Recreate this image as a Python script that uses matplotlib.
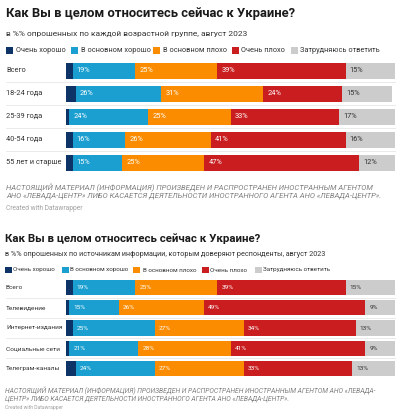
import matplotlib
matplotlib.use("Agg")
import matplotlib.pyplot as plt
from matplotlib.patches import Rectangle
import matplotlib.transforms as mtransforms

plt.rcParams['font.family'] = ['Roboto', 'DejaVu Sans']

series_names = ["Очень хорошо", "В основном хорошо", "В основном плохо", "Очень плохо", "Затрудняюсь ответить"]
colors = ["#0e3367", "#1a9fd0", "#fb8c00", "#c91d20", "#cccccc"]

title = "Как Вы в целом относитесь сейчас к Украине?"
sub1 = "в %% опрошенных по каждой возрастной группе, август 2023"
sub2 = "в %% опрошенных по источникам информации, которым доверяют респонденты, август 2023"

cats1 = ["Всего", "18-24 года", "25-39 года", "40-54 года", "55 лет и старше"]
very_good1 = [2, 3, 1, 2, 2]
good1 = [19, 26, 24, 16, 15]
bad1 = [25, 31, 25, 26, 25]
very_bad1 = [39, 24, 33, 41, 47]
dk1 = [15, 15, 17, 16, 12]

cats2 = ["Всего", "Телевидение", "Интернет-издания", "Социальные сети", "Телеграм-каналы"]
very_good2 = [2, 1, 2, 1, 3]
good2 = [19, 15, 25, 21, 24]
bad2 = [25, 26, 27, 28, 27]
very_bad2 = [39, 49, 34, 41, 33]
dk2 = [15, 9, 13, 9, 13]

foot1 = ("НАСТОЯЩИЙ МАТЕРИАЛ (ИНФОРМАЦИЯ) ПРОИЗВЕДЕН И РАСПРОСТРАНЕН ИНОСТРАННЫМ АГЕНТОМ\n"
         "АНО «ЛЕВАДА-ЦЕНТР» ЛИБО КАСАЕТСЯ ДЕЯТЕЛЬНОСТИ ИНОСТРАННОГО АГЕНТА АНО «ЛЕВАДА-ЦЕНТР».")
foot2 = ("НАСТОЯЩИЙ МАТЕРИАЛ (ИНФОРМАЦИЯ) ПРОИЗВЕДЕН И РАСПРОСТРАНЕН ИНОСТРАННЫМ АГЕНТОМ АНО «ЛЕВАДА-\n"
         "ЦЕНТР» ЛИБО КАСАЕТСЯ ДЕЯТЕЛЬНОСТИ ИНОСТРАННОГО АГЕНТА АНО «ЛЕВАДА-ЦЕНТР».")
credit = "Created with Datawrapper"

W, H = 399, 413
fig = plt.figure(figsize=(W / 100, H / 100), dpi=100)
fig.patch.set_facecolor("white")
renderer = fig.canvas.get_renderer()


def fx(px):
    return px / W


def fy(py):
    return 1 - py / H


def size_for(s, width_px, **kw):
    t = fig.text(0, 0, s, fontsize=10, **kw)
    w = t.get_window_extent(renderer=renderer).width
    t.remove()
    return 10 * width_px / w


def fit_text(x, y, s, width_px, **kw):
    fs = size_for(s, width_px, **kw)
    return fig.text(fx(x), fy(y), s, fontsize=fs, va="center", ha="left", **kw)


def legend_row(y, sq_x, txt_x, longest_w, sq):
    fs = size_for(series_names[4], longest_w)
    for name, c, sx, tx in zip(series_names, colors, sq_x, txt_x):
        fig.patches.append(Rectangle((fx(sx), fy(y + sq / 2)), fx(sq), sq / H, transform=fig.transFigure,
                                     facecolor=c, edgecolor="none"))
        fig.text(fx(tx), fy(y), name, fontsize=fs, color="#333333", va="center", ha="left")


def draw_chart(top, bottom, cats, data, bar_h, cat_fs, val_fs):
    ax = fig.add_axes([fx(66), fy(bottom), fx(395) - fx(66), (bottom - top) / H])
    n = len(cats)
    ys = list(range(n))
    left = [0] * n
    for si, (vals, c) in enumerate(zip(data, colors)):
        ax.barh(ys, vals, left=left, height=bar_h, color=c, edgecolor="none")
        if si > 0:
            for i, v in enumerate(vals):
                tc = "#333333" if si == 4 else "white"
                ax.annotate(f"{v}%", (left[i], i), xytext=(3, 0), textcoords="offset points",
                            ha="left", va="center", fontsize=val_fs, color=tc)
        left = [l + v for l, v in zip(left, vals)]
    ax.set_xlim(0, sum(d[0] for d in data))
    ax.set_ylim(n - 0.5, -0.5)
    ax.axis("off")
    trans = mtransforms.blended_transform_factory(fig.transFigure, ax.transData)
    for i, c in enumerate(cats):
        ax.text(fx(6), i, c, transform=trans, ha="left", va="center", fontsize=cat_fs, color="#333333")
    for i in range(n - 1):
        ax.plot([fx(6), fx(395)], [i + 0.5, i + 0.5], transform=trans, color="#e6e6e6",
                lw=0.6, clip_on=False)
    return ax


# Top chart
fit_text(6, 13, title, 291, fontweight="bold", color="#1a1a1a")
fit_text(6, 34, sub1, 241, color="#333333")
legend_row(50, [6, 71, 153, 232, 291], [16, 81, 163, 241, 300], 79, 7)
cfs1 = size_for("55 лет и старше", 55)
draw_chart(59.2, 174.2, cats1, [very_good1, good1, bad1, very_bad1, dk1], 0.7, cfs1, cfs1)
fit_text(6, 191, foot1, 372, style="italic", color="#808080", linespacing=1.1)
fit_text(6, 208, credit, 76, color="#a0a0a0")

# Bottom chart
fit_text(5, 238.5, title, 256, fontweight="bold", color="#1a1a1a")
fit_text(5, 255, sub2, 324, color="#333333")
legend_row(270, [5, 62, 133, 202, 255], [13, 70, 143, 210, 263], 67, 6.5)
cfs2 = size_for("Интернет-издания", 56)
draw_chart(277.6, 378.4, cats2, [very_good2, good2, bad2, very_bad2, dk2], 0.75, cfs2, cfs2)
fit_text(5, 394.5, foot2, 372, style="italic", color="#808080", linespacing=1.1)
fit_text(5, 408, credit, 58, color="#a0a0a0")

fig.savefig("out.png", dpi=100, facecolor="white")
